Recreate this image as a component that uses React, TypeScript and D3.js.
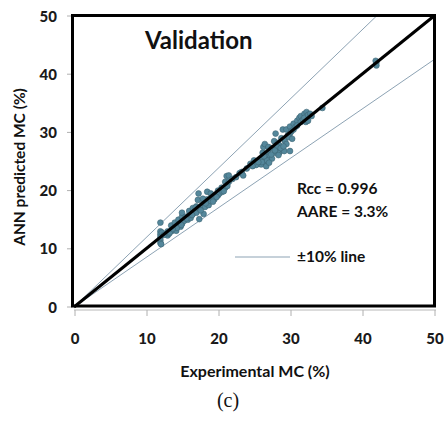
import React from "react";
import * as d3 from "d3";

const expMC = [
  12, 12, 12, 12, 12, 12, 12.1, 12.2, 13, 13, 13.2, 13.5, 13.5, 13.8, 14, 14, 14.2, 14.5, 14.5, 14.8,
  15, 15, 15, 15.3, 15.5, 15.8, 16, 16, 16.2, 16.5, 16.5, 16.8, 17, 17, 17.2, 17.3, 17.4, 17.5, 17.8, 18,
  18, 18.2, 18.5, 18.5, 18.7, 19, 19, 19.2, 19.5, 19.5, 20, 20, 20.2, 20.5, 20.6, 21, 21, 21.2, 21.3, 21.5,
  21.5, 22, 22.5, 23, 23.3, 23.5, 24, 24.5, 25, 25, 25.5, 25.8, 26, 26, 26.2, 26.3, 26.5, 26.5, 26.7, 27,
  27, 27, 27.2, 27.5, 27.5, 27.8, 28, 28, 28, 28.3, 28.5, 28.5, 28.8, 29, 29, 29.2, 29.3, 29.5, 29.5, 29.7,
  30, 30, 30, 30.2, 30.5, 30.5, 30.8, 31, 31, 31.3, 31.5, 31.5, 31.8, 32, 32, 32.2, 32.3, 32.5, 32.5, 32.8,
  33, 34.5, 42, 42, 41.9, 12.5, 13.3, 14.3, 15.6, 16.4, 17.6, 18.3, 19.8, 20.8, 26.8, 27.4, 28.2, 29.8,
  16.9, 17.9, 19.3, 26.1, 27.9, 28.7, 13.7, 14.9, 25.3, 26.4, 27.1, 28.4, 29.1, 30.3, 24.8, 25.6,
];
const annMC = [
  14.5, 13, 12.5, 12, 11.5, 11, 10.8, 12.8, 12.3, 13, 12.6, 13, 14, 13.2, 13.5, 14.5, 13.1, 14, 15, 13.8,
  14.3, 15.5, 16.2, 14.8, 15.5, 15, 15.8, 16.5, 15.3, 16, 17, 16.4, 16.2, 17.3, 18.4, 19.5, 15.1, 16.8, 17.5, 18,
  16, 17.2, 19.8, 18.5, 17.5, 18.2, 19.5, 18.8, 19, 18.5, 19.2, 20, 19.5, 20.5, 19.8, 20.5, 21.5, 22.5, 20.8, 21.5,
  22.6, 22, 22.3, 23, 23.2, 22.6, 23.8, 24.6, 24.5, 25.2, 24.6, 25, 24.5, 25.5, 26.5, 27.5, 28, 25, 24.2, 25.5,
  26.5, 27.5, 26, 25.5, 27.3, 28.5, 29.8, 26.5, 27, 28.2, 26.5, 27.8, 29, 30.5, 27, 26.8, 28.5, 28, 30.5, 29.5,
  31, 29.8, 26.8, 30.2, 31.5, 30.5, 31, 32, 31.2, 32.5, 31.8, 32.8, 32.2, 33.2, 32.5, 31.8, 33.5, 33, 32, 33.2,
  32.8, 34.2, 42, 41.5, 42.3, 12.4, 12.8, 13.6, 15.2, 15.8, 16.6, 17.8, 18.9, 19.9, 25.2, 26.2, 27.5, 29.2,
  17.1, 18.6, 18.1, 24.9, 26.9, 27.3, 13.4, 14.1, 24.4, 25.9, 24.8, 26.1, 27.6, 28.9, 24.2, 24.9,
];

const xTicks = [0, 10, 20, 30, 40, 50];
const yTicks = [0, 10, 20, 30, 40, 50];
// slopes of the drawn band lines
const bandSlopes = [1.19, 0.85];

const W = 446;
const H = 421;

export default function App() {
  const x = d3.scaleLinear().domain([0, 50]).range([74, 434]);
  const y = d3.scaleLinear().domain([0, 50]).range([307, 16]);
  const pts = expMC.map((v, i) => [v, annMC[i]]);

  const lineEnd = (k: number) => (k > 1 ? [50 / k, 50] : [50, 50 * k]);
  const line = d3
    .line<number[]>()
    .x((d) => x(d[0]))
    .y((d) => y(d[1]));

  const font = "Lato, 'Open Sans', sans-serif";

  return (
    <svg
      width={W}
      height={H}
      style={{ position: "absolute", left: 0, top: 0, background: "#fff" }}
    >
      {/* x axis */}
      <line x1={x(0)} x2={x(50) + 2} y1={310} y2={310} stroke="#b8b8b8" strokeWidth={1.2} />
      {xTicks.map((t) => (
        <g key={"x" + t}>
          <line x1={x(t) + 1} x2={x(t) + 1} y1={310} y2={316} stroke="#b0b0b0" />
          <text
            x={x(t) + 1}
            y={344}
            textAnchor="middle"
            fontFamily={font}
            fontWeight={900}
            fontSize={15}
            fill="#1a1a1a"
          >
            {t}
          </text>
        </g>
      ))}
      {/* y axis */}
      {yTicks.map((t) => (
        <g key={"y" + t}>
          <line x1={67} x2={72} y1={y(t)} y2={y(t)} stroke="#b0b0b0" />
          <text
            x={57}
            y={y(t) + 5.5}
            textAnchor="end"
            fontFamily={font}
            fontWeight={900}
            fontSize={15}
            fill="#1a1a1a"
          >
            {t}
          </text>
        </g>
      ))}

      {/* band lines */}
      {bandSlopes.map((k) => (
        <path
          key={k}
          d={line([[0, 0], lineEnd(k)]) ?? ""}
          stroke="#8da3b4"
          strokeWidth={1}
          fill="none"
        />
      ))}

      {/* points */}
      {pts.map((d, i) => (
        <circle
          key={i}
          cx={x(d[0])}
          cy={y(d[1])}
          r={2.9}
          fill="#54879b"
          stroke="#3d6474"
          strokeWidth={0.6}
        />
      ))}

      {/* 1:1 line */}
      <path d={line([[0, 0], [50, 50]]) ?? ""} stroke="#000" strokeWidth={3} fill="none" />

      {/* plot box */}
      <rect x={72.5} y={15.5} width={362} height={290.5} fill="none" stroke="#000" strokeWidth={3} />

      <text x={145} y={49} fontFamily={font} fontWeight={700} fontSize={24} fill="#111">
        Validation
      </text>
      <text x={297} y={194} fontFamily={font} fontWeight={700} fontSize={15.5} fill="#111">
        Rcc = 0.996
      </text>
      <text x={297} y={217} fontFamily={font} fontWeight={700} fontSize={15.5} fill="#111">
        AARE = 3.3%
      </text>
      <line x1={235} x2={290} y1={257} y2={257} stroke="#8da3b4" strokeWidth={1} />
      <text x={297} y={262} fontFamily={font} fontWeight={700} fontSize={15.5} fill="#111">
        ±10% line
      </text>

      <text
        transform="translate(25,167) rotate(-90)"
        textAnchor="middle"
        fontFamily={font}
        fontWeight={700}
        fontSize={15.5}
        fill="#111"
      >
        ANN predicted MC (%)
      </text>
      <text
        x={255}
        y={377}
        textAnchor="middle"
        fontFamily={font}
        fontWeight={700}
        fontSize={16}
        fill="#111"
      >
        Experimental MC (%)
      </text>
      <text
        x={228}
        y={407}
        textAnchor="middle"
        fontFamily="'Liberation Serif', 'DejaVu Serif', serif"
        fontSize={20}
        fill="#111"
      >
        (c)
      </text>
    </svg>
  );
}
